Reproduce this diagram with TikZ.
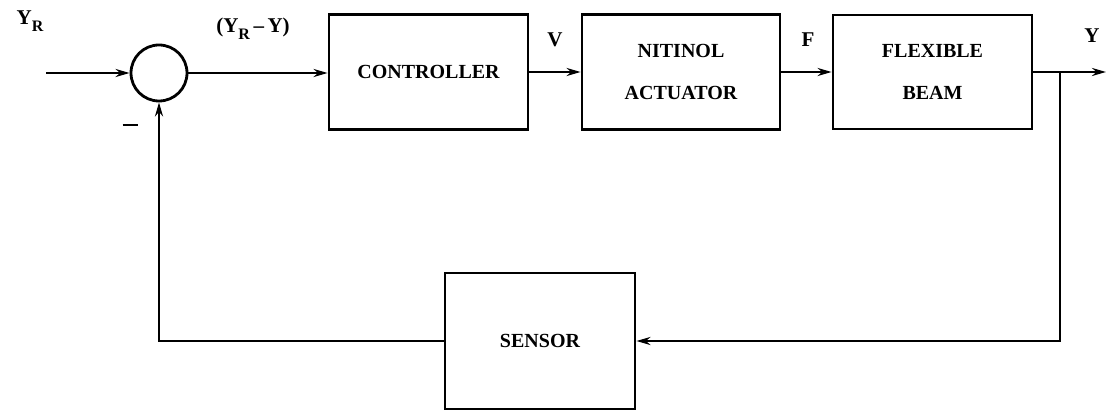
\documentclass[tikz,border=0pt]{standalone}
\usepackage{fontspec}
\setmainfont{Liberation Serif}
\usetikzlibrary{arrows.meta}
\begin{document}
\begin{tikzpicture}[x=1pt,y=-1pt,
  blk/.style={draw, line width=2.8pt, align=center, font=\bfseries\fontsize{20}{42}\selectfont, inner sep=0pt},
  sig/.style={line width=2.6pt, -{Stealth[length=14pt,width=8pt]}},
  lbl/.style={font=\bfseries\fontsize{21}{22}\selectfont, inner sep=0pt}]
\useasboundingbox (0,0) rectangle (1108,411);
\fill[white] (0,0) rectangle (1108,411);
\node[draw, circle, line width=2.8pt, minimum size=56pt, inner sep=0pt] (sum) at (159,73) {};
\node[blk, minimum width=199pt, minimum height=115pt] (ctrl) at (428.5,72) {CONTROLLER};
\node[blk, minimum width=198pt, minimum height=115pt] (act) at (681,72) {NITINOL\\ACTUATOR};
\node[blk, minimum width=199pt, minimum height=114pt] (beam) at (932.5,72) {FLEXIBLE\\BEAM};
\node[blk, minimum width=190pt, minimum height=136pt] (sens) at (540,341) {SENSOR};
\coordinate (in) at (46,73);
\coordinate (out) at (1106,72);
\coordinate (br) at (1060,72);
\draw[sig] (in) -- (sum.west);
\draw[sig] (sum.east) -- (sum.east -| ctrl.west);
\draw[sig] (ctrl.east) -- (act.west);
\draw[sig] (act.east) -- (beam.west);
\draw[sig] (beam.east) -- (out);
\draw[sig] (br) |- (sens.east);
\draw[sig] (sens.west) -| (sum.south);
\node[lbl] (lyr) at (30,21) {Y\raisebox{-7pt}{\fontsize{16}{16}\selectfont R}};
\node[lbl] (lerr) at (253,29) {(Y\raisebox{-7pt}{\fontsize{16}{16}\selectfont R}\,{--}\,Y)};
\node[lbl] (lv) at (555,40) {V};
\node[lbl] (lf) at (808,40) {F};
\node[lbl] (ly) at (1092,36) {Y};
\node[lbl] (lminus) at (130,125) {\rule{15pt}{2.6pt}};
\end{tikzpicture}
\end{document}
